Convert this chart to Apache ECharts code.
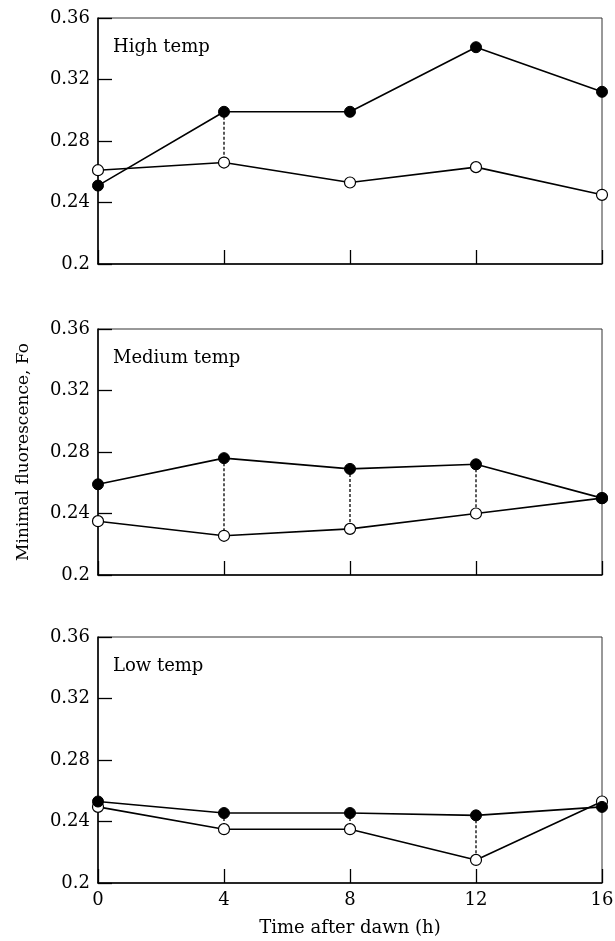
<!DOCTYPE html>
<html>
<head>
<meta charset="utf-8">
<script src="https://cdn.jsdelivr.net/npm/echarts@6/dist/echarts.min.js"></script>
<style>
  html, body { margin: 0; padding: 0; background: #fff; }
  #chart { width: 615px; height: 941px; }
</style>
</head>
<body>
<div id="chart"></div>
<script>
// hours after dawn
const hours = [0, 4, 8, 12, 16]
const yTicks = [0.2, 0.24, 0.28, 0.32, 0.36]

const panelNames = ['High temp', 'Medium temp', 'Low temp']

// filled circles
const highFilled = [0.251, 0.299, 0.299, 0.341, 0.312]
const medFilled = [0.259, 0.276, 0.269, 0.272, 0.250]
const lowFilled = [0.253, 0.2455, 0.2455, 0.244, 0.2495]

// open circles
const highOpen = [0.261, 0.266, 0.253, 0.263, 0.245]
const medOpen = [0.235, 0.2255, 0.230, 0.240, 0.250]
const lowOpen = [0.2495, 0.235, 0.235, 0.215, 0.253]

// hours with a dotted link between the two series
const highLinks = [4]
const medLinks = [4, 8, 12]
const lowLinks = [4, 8, 12]

const panels = [
  { name: panelNames[0], filled: highFilled, open: highOpen, links: highLinks },
  { name: panelNames[1], filled: medFilled, open: medOpen, links: medLinks },
  { name: panelNames[2], filled: lowFilled, open: lowOpen, links: lowLinks }
]

const font = 'DejaVu Serif'
const tops = [18, 329, 637]
const plotH = 246

const chart = echarts.init(document.getElementById('chart'))

const grids = []
const xAxes = []
const yAxes = []
const series = []
const texts = []

panels.forEach((p, i) => {
  grids.push({
    left: 98, width: 504, top: tops[i], height: plotH,
    outerBoundsMode: 'none', containLabel: false,
    show: true, borderColor: '#333', borderWidth: 1
  })
  xAxes.push({
    gridIndex: i, type: 'value', min: 0, max: 16, interval: 4,
    axisLine: { show: true, lineStyle: { color: '#000', width: 1.5 } },
    axisTick: { show: true, inside: true, length: 14, lineStyle: { color: '#000', width: 1.3 } },
    axisLabel: {
      show: i === 2, color: '#000', fontFamily: font, fontSize: 18, margin: 8
    },
    splitLine: { show: false },
    name: i === 2 ? 'Time after dawn (h)' : '',
    nameLocation: 'middle', nameGap: 36,
    nameTextStyle: { color: '#000', fontFamily: font, fontSize: 18 }
  })
  yAxes.push({
    gridIndex: i, type: 'value', min: yTicks[0], max: yTicks[yTicks.length - 1], interval: 0.04,
    axisLine: { show: true, lineStyle: { color: '#000', width: 1.5 } },
    axisTick: { show: true, inside: true, length: 14, lineStyle: { color: '#000', width: 1.3 } },
    axisLabel: {
      color: '#000', fontFamily: font, fontSize: 18, margin: 8,
      formatter: v => String(+v.toFixed(2))
    },
    splitLine: { show: false },
    name: i === 1 ? 'Minimal fluorescence, Fo' : '',
    nameLocation: 'middle', nameGap: 66, nameRotate: 90,
    nameTextStyle: { color: '#000', fontFamily: font, fontSize: 17 }
  })

  // dotted links
  p.links.forEach(h => {
    const k = hours.indexOf(h)
    series.push({
      type: 'line', xAxisIndex: i, yAxisIndex: i, symbol: 'none', silent: true,
      data: [[h, p.filled[k]], [h, p.open[k]]],
      lineStyle: { color: '#000', width: 1.3, type: [3, 2] }, z: 1
    })
  })

  series.push({
    type: 'line', xAxisIndex: i, yAxisIndex: i,
    data: hours.map((h, k) => [h, p.open[k]]),
    symbol: 'circle', symbolSize: 11,
    itemStyle: { color: '#fff', borderColor: '#000', borderWidth: 1.2 },
    lineStyle: { color: '#000', width: 1.6 }, z: 3
  })
  series.push({
    type: 'line', xAxisIndex: i, yAxisIndex: i,
    data: hours.map((h, k) => [h, p.filled[k]]),
    symbol: 'circle', symbolSize: 11,
    itemStyle: { color: '#000', borderColor: '#000', borderWidth: 1 },
    lineStyle: { color: '#000', width: 1.6 }, z: 4
  })

  texts.push({
    type: 'text', left: 113, top: tops[i] + 20,
    style: { text: p.name, fill: '#000', font: '18px "' + font + '"' }
  })
})

chart.setOption({
  animation: false,
  backgroundColor: '#fff',
  grid: grids,
  xAxis: xAxes,
  yAxis: yAxes,
  series: series,
  graphic: texts
})
</script>
</body>
</html>
